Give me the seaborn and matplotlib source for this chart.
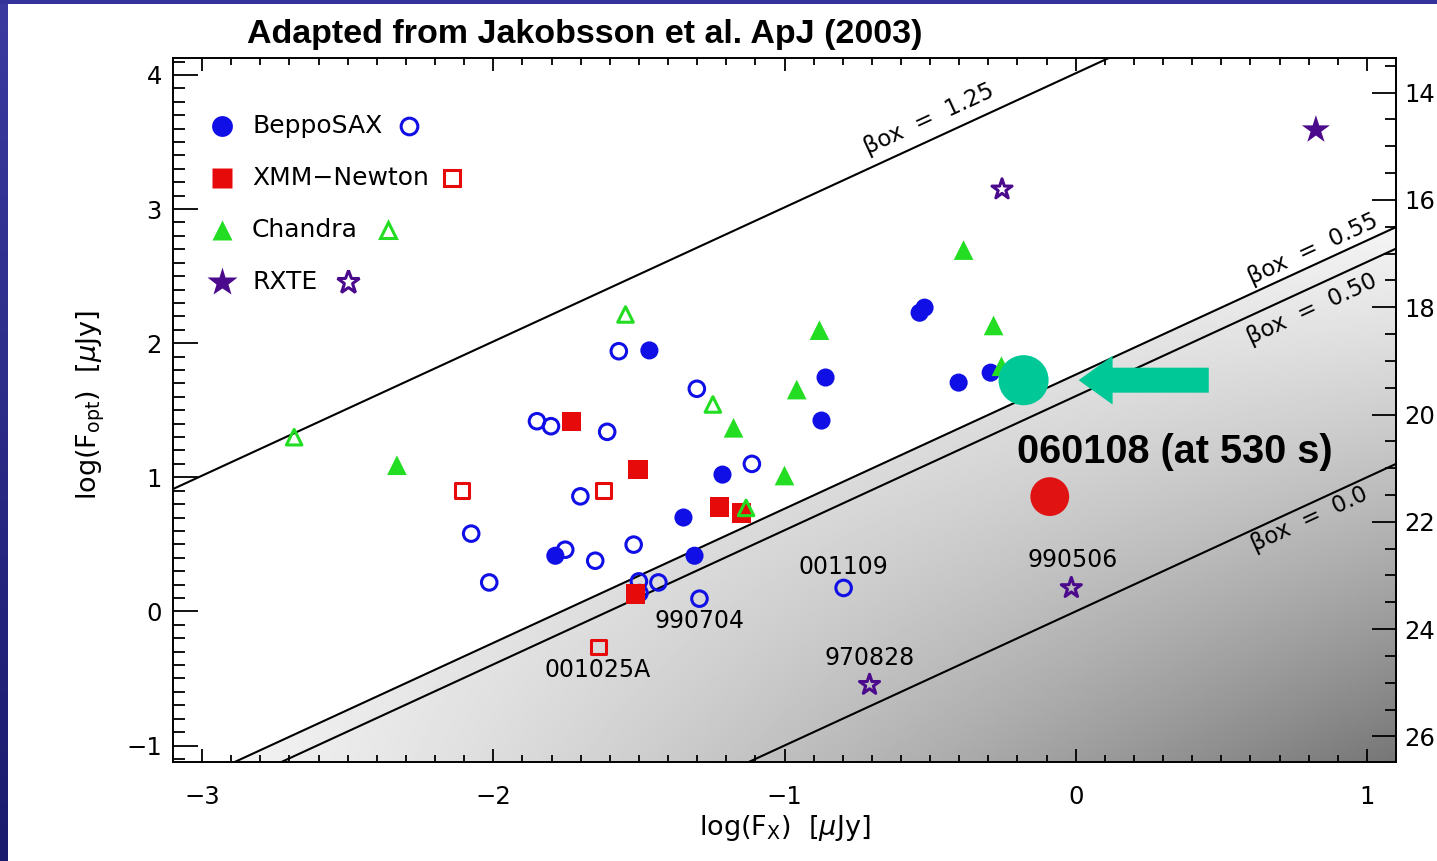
import numpy as np
import pandas as pd
import matplotlib
matplotlib.use("Agg")
import matplotlib.pyplot as plt
import seaborn as sns
from matplotlib import font_manager as fm
from matplotlib.patches import Polygon, Rectangle
from matplotlib.ticker import MultipleLocator, FixedLocator

# ---------------------------------------------------------------------------
# Afterglow fluxes: log10 of X-ray flux and optical flux, both in micro-Jansky
# ---------------------------------------------------------------------------
sax_det_x = [-1.464, -1.787, -1.347, -1.309, -1.213, -0.859, -0.873, -0.536, -0.519, -0.402, -0.292]
sax_det_y = [1.946, 0.415, 0.700, 0.415, 1.020, 1.744, 1.423, 2.227, 2.265, 1.706, 1.780]
sax_lim_x = [-1.569, -1.850, -1.802, -1.609, -1.701, -2.076, -2.014, -1.753, -1.650,
             -1.518, -1.500, -1.433, -1.498, -1.301, -1.112, -1.292, -0.797]
sax_lim_y = [1.940, 1.418, 1.381, 1.339, 0.858, 0.580, 0.216, 0.460, 0.378,
             0.498, 0.224, 0.216, 0.137, 1.660, 1.100, 0.095, 0.175]

xmm_det_x = [-1.731, -1.503, -1.512, -1.223, -1.149]
xmm_det_y = [1.418, 1.057, 0.130, 0.779, 0.734]
xmm_lim_x = [-2.107, -1.622, -1.639]
xmm_lim_y = [0.900, 0.900, -0.266]

cxo_det_x = [-2.331, -1.175, -1.000, -0.958, -0.880, -0.385, -0.282, -0.255]
cxo_det_y = [1.090, 1.369, 1.013, 1.654, 2.097, 2.694, 2.132, 1.828]
cxo_lim_x = [-1.546, -2.684, -1.246, -1.132]
cxo_lim_y = [2.214, 1.299, 1.543, 0.772]

rxte_det_x = [0.825]
rxte_det_y = [3.590]
rxte_lim_x = [-0.253, -0.015, -0.708]
rxte_lim_y = [3.147, 0.175, -0.547]

# Named dark bursts and where their names are written
burst_names = ["001109", "990704", "001025A", "970828", "990506"]
burst_name_x = [-0.797, -1.292, -1.643, -0.708, -0.010]
burst_name_y = [0.333, -0.070, -0.435, -0.346, 0.386]

# GRB 060108
grb_x = [-0.089]
grb_y = [0.856]
grb_text = "060108 (at 530 s)"
grb_text_xy = (0.340, 1.190)

# highlighted position with arrow
mark_x = [-0.179]
mark_y = [1.724]
arrow_tip_x = 0.010
arrow_tail_x = 0.457

# Constant optical-to-X-ray spectral index lines
beta_values = [1.25, 0.55, 0.50, 0.0]
beta_texts = ["1.25", "0.55", "0.50", "0.0"]
beta_text_x = [-0.502, 0.814, 0.811, 0.804]
beta_text_y = [3.669, 2.699, 2.251, 0.684]
LOG_NU_RATIO = 3.21      # log10(nu_X / nu_R)
MAG_ZP = 23.67           # R = MAG_ZP - 2.5 log10(F / uJy)

x_limits = (-3.1, 1.1)
y_limits = (-1.125, 4.13)
x_major = [-3, -2, -1, 0, 1]
y_major = [-1, 0, 1, 2, 3, 4]
mag_major = [14, 16, 18, 20, 22, 24, 26]

legend_names = ["BeppoSAX", "XMM\u2212Newton", "Chandra", "RXTE"]

# ---------------------------------------------------------------------------
BLUE = "#1010E6"
RED = "#E60A0A"
GREEN = "#22DD22"
PURPLE = "#4B0A8C"
TEAL = "#00C896"


def has_family(name):
    try:
        fm.findfont(fm.FontProperties(family=name), fallback_to_default=False)
        return True
    except Exception:
        return False


sns.set_style("white")
plt.rcParams["font.family"] = ["DejaVu Sans"]
plt.rcParams["axes.unicode_minus"] = True
for key in ["text.color", "axes.labelcolor", "xtick.color", "ytick.color",
            "xtick.labelcolor", "ytick.labelcolor"]:
    plt.rcParams[key] = "black"
title_family = "Liberation Sans Narrow" if has_family("Liberation Sans Narrow") else "Liberation Sans"
title_size = 28 if title_family == "Liberation Sans Narrow" else 24.5

W, H = 1437, 861
fig = plt.figure(figsize=(W / 100, H / 100), dpi=100, facecolor="white")

# slide frame: blue strip on top and a shaded blue strip on the left
fig.patches.append(Rectangle((0, 1 - 4 / H), 1, 4 / H, transform=fig.transFigure,
                             facecolor="#333399", edgecolor="none", zorder=0))
side = fig.add_axes([0, 0, 7 / W, 1])
side.imshow(np.linspace(0, 1, 256)[:, None], aspect="auto", origin="lower",
            cmap=matplotlib.colors.LinearSegmentedColormap.from_list("edge", ["#1b1b6e", "#3a3aa0"]))
side.set_axis_off()

ax = fig.add_axes([173 / W, 1 - 762.3 / H, (1396 - 173) / W, (762.3 - 57.5) / H])
ax.set_facecolor("white")

# shaded region below the beta_ox = 0.55 line
nx, ny = 500, 350
gx, gy = np.meshgrid(np.linspace(0, 1, nx), np.linspace(0, 1, ny))
shade = 0.965 - 0.50 * gx ** 1.2 * np.clip(1 - gy / 0.78, 0, 1) ** 1.15
im = ax.imshow(shade, extent=(*x_limits, *y_limits), origin="lower", cmap="gray",
               vmin=0, vmax=1, aspect="auto", interpolation="bilinear", zorder=0)
off = 0.55 * LOG_NU_RATIO
clip = Polygon([(x_limits[0], x_limits[0] + off), (x_limits[1], x_limits[1] + off),
                (x_limits[1], y_limits[0]), (x_limits[0], y_limits[0])],
               closed=True, transform=ax.transData, facecolor="none", edgecolor="none")
ax.add_patch(clip)
im.set_clip_path(clip)

# beta_ox lines and their labels
xs = np.array(x_limits)
for b, bt, tx, ty in zip(beta_values, beta_texts, beta_text_x, beta_text_y):
    ax.plot(xs, xs + b * LOG_NU_RATIO, color="black", lw=1.5, zorder=2)
    ax.text(tx, ty, "\u03b2ox  =  " + bt, fontsize=16.5, ha="center", va="center",
            rotation=45, transform_rotates_text=True, rotation_mode="anchor", zorder=3)

# scatter points
rows = []
for mission, dx, dy, lx, ly in [
    ("BeppoSAX", sax_det_x, sax_det_y, sax_lim_x, sax_lim_y),
    ("XMM", xmm_det_x, xmm_det_y, xmm_lim_x, xmm_lim_y),
    ("Chandra", cxo_det_x, cxo_det_y, cxo_lim_x, cxo_lim_y),
    ("RXTE", rxte_det_x, rxte_det_y, rxte_lim_x, rxte_lim_y),
]:
    rows += [dict(mission=mission, kind="filled", logfx=a, logfopt=b) for a, b in zip(dx, dy)]
    rows += [dict(mission=mission, kind="open", logfx=a, logfopt=b) for a, b in zip(lx, ly)]
df = pd.DataFrame(rows)

style = {
    "BeppoSAX": dict(color=BLUE, marker="o", s_f=170, s_o=125),
    "XMM": dict(color=RED, marker="s", s_f=190, s_o=110),
    "Chandra": dict(color=GREEN, marker="^", s_f=200, s_o=125),
    "RXTE": dict(color=PURPLE, marker="*", s_f=450, s_o=230),
}
for mission, st in style.items():
    sub_o = df[(df.mission == mission) & (df.kind == "open")]
    sub_f = df[(df.mission == mission) & (df.kind == "filled")]
    sns.scatterplot(data=sub_f, x="logfx", y="logfopt", marker=st["marker"], s=st["s_f"],
                    color=st["color"], edgecolor="none", linewidth=0, ax=ax, zorder=4, legend=False)
    sns.scatterplot(data=sub_o, x="logfx", y="logfopt", marker=st["marker"], s=st["s_o"],
                    facecolor="none", edgecolor=st["color"], linewidth=2.2, ax=ax, zorder=4,
                    legend=False)

for name, tx, ty in zip(burst_names, burst_name_x, burst_name_y):
    ax.text(tx, ty, name, fontsize=17, ha="center", va="center", zorder=5)

# GRB 060108 and highlighted point
sns.scatterplot(x=grb_x, y=grb_y, s=780, color="#E01212", edgecolor="none", ax=ax, zorder=5,
                legend=False)
ax.text(*grb_text_xy, grb_text, fontsize=28.5, fontweight="bold", family="Liberation Sans",
        ha="center", va="center", zorder=5)
sns.scatterplot(x=mark_x, y=mark_y, s=1300, color=TEAL, edgecolor="none", ax=ax, zorder=6,
                legend=False)
ax.annotate("", xy=(arrow_tip_x, mark_y[0]), xytext=(arrow_tail_x, mark_y[0]),
            arrowprops=dict(arrowstyle="simple,head_length=1.36,head_width=1.95,tail_width=1.0",
                            mutation_scale=18, color=TEAL, lw=0, shrinkA=0, shrinkB=0),
            zorder=6)

# key in the upper left corner
row_y = [0.9035, 0.8297, 0.7559, 0.6821]
open_x = [0.193, 0.228, 0.176, 0.143]
key_style = [("o", BLUE, 15, 12), ("s", RED, 14.5, 11), ("^", GREEN, 15, 11.5), ("*", PURPLE, 22, 17)]
for (mk, col, ms_f, ms_o), yy, ox, name in zip(key_style, row_y, open_x, legend_names):
    ax.plot([0.040], [yy], marker=mk, ms=ms_f, color=col, mec="none", ls="none",
            transform=ax.transAxes, zorder=5)
    ax.plot([ox], [yy], marker=mk, ms=ms_o, mfc="none", mec=col, mew=2.2, ls="none",
            transform=ax.transAxes, zorder=5)
    ax.text(0.0646, yy, name, fontsize=18, ha="left", va="center", transform=ax.transAxes,
            zorder=5)

# axes, ticks and labels
ax.set_xlim(*x_limits)
ax.set_ylim(*y_limits)
ax.xaxis.set_major_locator(FixedLocator(x_major))
ax.yaxis.set_major_locator(FixedLocator(y_major))
ax.xaxis.set_minor_locator(MultipleLocator(0.1))
ax.yaxis.set_minor_locator(MultipleLocator(0.1))
ax.tick_params(axis="x", which="both", direction="in", top=True, bottom=True, width=1.3,
               color="black", labelsize=17.5, pad=16)
ax.tick_params(axis="x", which="major", length=9.5)
ax.tick_params(axis="x", which="minor", length=4.7)
ax.tick_params(axis="y", which="both", direction="in", left=True, right=False, width=1.3,
               color="black", labelsize=17.5, pad=8)
ax.tick_params(axis="y", which="major", length=18)
ax.tick_params(axis="y", which="minor", length=8.5)
for sp in ax.spines.values():
    sp.set_linewidth(1.4)
    sp.set_color("black")

mag = ax.secondary_yaxis("right", functions=(lambda y: MAG_ZP - 2.5 * y,
                                             lambda m: (MAG_ZP - m) / 2.5))
mag.yaxis.set_major_locator(FixedLocator(mag_major))
mag.yaxis.set_minor_locator(MultipleLocator(0.5))
mag.tick_params(which="both", direction="in", width=1.3, color="black", labelsize=17.5, pad=6)
mag.tick_params(which="major", length=17)
mag.tick_params(which="minor", length=8)
mag.spines["right"].set_linewidth(1.4)

ax.set_xlabel(r"log(F$_{\mathregular{X}}$)  [$\mu$Jy]", fontsize=19.5)
ax.xaxis.set_label_coords(0.5, -0.072)
ax.set_ylabel(r"log(F$_{\mathregular{opt}}$)  [$\mu$Jy]", fontsize=19.5)
ax.yaxis.set_label_coords(-0.054, 0.507)

fig.text(585 / W, 1 - 34 / H, "Adapted from Jakobsson et al. ApJ (2003)", family=title_family,
         fontsize=title_size, fontweight="bold", ha="center", va="center")

fig.savefig("out.png", dpi=100, facecolor=fig.get_facecolor())
